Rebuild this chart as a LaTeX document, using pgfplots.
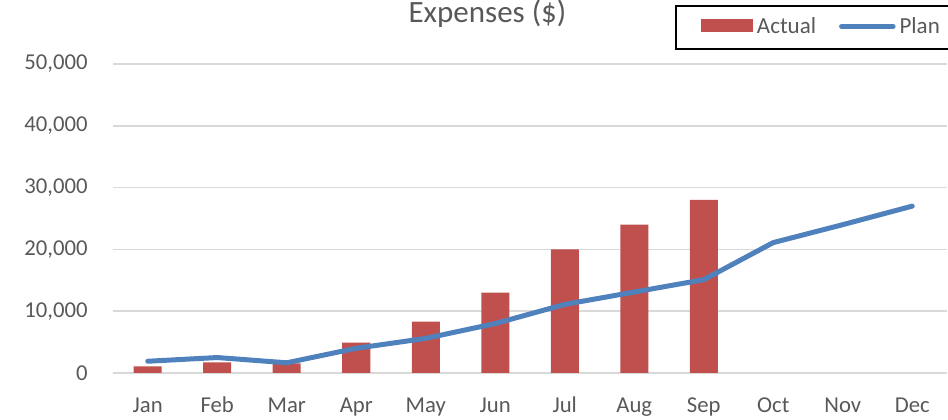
\documentclass[border=0pt]{standalone}
\usepackage{fontspec}
\setmainfont{Carlito}
\usepackage{pgfplots}
\pgfplotsset{compat=1.18}
\definecolor{actred}{HTML}{C0504D}
\definecolor{planblue}{HTML}{4F81BD}
\definecolor{gridgray}{HTML}{D9D9D9}
\definecolor{txtgray}{HTML}{595959}
\begin{document}
\begin{tikzpicture}
\begin{axis}[
  scale only axis,
  width=417pt, height=154.5pt,
  xmin=-0.5, xmax=11.5, ymin=0, ymax=50000,
  xtick={0,...,11},
  xticklabels={Jan,Feb,Mar,Apr,May,Jun,Jul,Aug,Sep,Oct,Nov,Dec},
  ytick={0,10000,20000,30000,40000,50000},
  scaled y ticks=false,
  /pgf/number format/assume math mode=true,
  /pgf/number format/1000 sep={,},
  /pgf/number format/fixed,
  axis x line*=bottom, axis y line*=left,
  x axis line style={draw=gridgray, line width=0.75pt},
  y axis line style={draw=none},
  major tick length=0pt,
  ymajorgrids,
  major grid style={draw=gridgray, line width=0.75pt},
  ticklabel style={font=\fontsize{11.35}{13}\selectfont, text=txtgray, inner sep=0pt},
  yticklabel style={xshift=-12.5pt},
  xticklabel style={anchor=base, yshift=-20pt},
  legend columns=2,
  legend style={at={(rel axis cs:0.674,1)}, anchor=north west, yshift=29.5pt,
    draw=black, line width=0.85pt, inner xsep=12.5pt, inner ysep=6pt,
    font=\fontsize{11.5}{13}\selectfont, text=txtgray,
    nodes={inner sep=0pt},
    /tikz/every odd column/.append style={column sep=2pt},
    /tikz/every even column/.append style={column sep=11.5pt}},
]
\addplot[ybar, bar width=14pt, fill=actred, draw=none,
  legend image code/.code={\fill[actred] (0pt,-2.5pt) rectangle (26pt,4pt);}]
  coordinates {(0,1050) (1,1700) (2,1550) (3,4900) (4,8300) (5,13000) (6,20000) (7,24000) (8,28000)};
\addlegendentry{Actual}
\addplot[planblue, line width=2.5pt, line join=round, line cap=round,
  legend image code/.code={\draw[planblue, line width=2.5pt, line cap=round] (1.25pt,0.5pt) -- (27pt,0.5pt);}]
  coordinates {(0,1900) (1,2500) (2,1650) (3,4000) (4,5600) (5,8000) (6,11100) (7,13100) (8,15100) (9,21100) (10,24000) (11,27000)};
\addlegendentry{Plan}
\coordinate (ttl) at (rel axis cs:0.449,1);
\end{axis}
\node[anchor=base, yshift=20.5pt, inner sep=0pt, font=\fontsize{15.5}{18}\selectfont, text=txtgray] at (ttl) {Expenses (\$)};
\pgfresetboundingbox
\path[use as bounding box] ([shift={(-56.5pt,-23.5pt)}]current axis.south west) rectangle ([shift={(0.5pt,32pt)}]current axis.north east);
\end{tikzpicture}
\end{document}
